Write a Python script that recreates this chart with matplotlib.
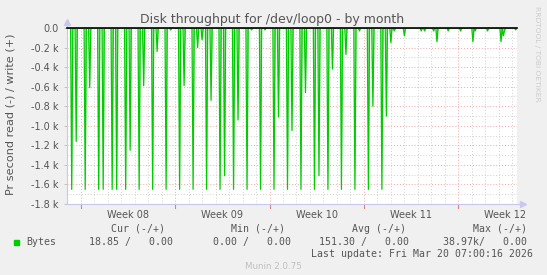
import numpy as np
import pandas as pd
import matplotlib
matplotlib.use("Agg")
from matplotlib import pyplot as plt
import matplotlib.dates as mdates
from matplotlib.patches import Rectangle


# daily job: one big read burst every morning (bytes/s, read side is negative)
main_times = pd.date_range("2026-02-15 08:00", "2026-03-10 08:00", freq="D")
main_depth = [1650] * len(main_times)

# the smaller bursts that follow
extra_times = ["2026-02-15 16:00", "2026-02-16 16:00", "2026-02-17 16:00",
               "2026-02-18 16:00", "2026-02-19 16:00", "2026-02-20 16:00",
               "2026-02-21 16:00", "2026-02-22 16:00", "2026-02-23 16:00",
               "2026-02-24 16:00", "2026-02-25 00:00", "2026-02-25 16:00",
               "2026-02-26 16:00", "2026-02-27 16:00", "2026-02-28 16:00",
               "2026-03-01 16:00", "2026-03-02 16:00", "2026-03-03 16:00",
               "2026-03-04 16:00", "2026-03-05 16:00", "2026-03-06 16:00",
               "2026-03-07 16:00", "2026-03-08 16:00", "2026-03-09 16:00",
               "2026-03-10 16:00", "2026-03-11 00:00", "2026-03-11 06:00",
               "2026-03-12 00:00", "2026-03-13 06:00", "2026-03-13 12:00",
               "2026-03-14 04:00", "2026-03-14 10:00", "2026-03-15 06:00",
               "2026-03-16 04:00", "2026-03-17 02:00", "2026-03-17 06:00",
               "2026-03-18 04:00", "2026-03-19 04:00", "2026-03-19 08:00",
               "2026-03-19 10:00", "2026-03-20 06:00"]
extra_depth = [1160, 610, 1650, 1650, 1250, 590, 240, 20, 590, 200, 120, 740,
               1510, 940, 20, 20, 910, 1050, 660, 1510, 420, 270, 30, 800,
               900, 150, 30, 80, 30, 30, 30, 140, 30, 30, 140, 30, 30, 140,
               80, 30, 20]

x_start = pd.Timestamp("2026-02-14 23:05")
x_end = pd.Timestamp("2026-03-20 09:00")
week_starts = pd.to_datetime(["2026-02-16", "2026-02-23", "2026-03-02",
                              "2026-03-09", "2026-03-16"])
week_labels = ["Week 08", "Week 09", "Week 10", "Week 11", "Week 12"]

legend_head = ["Cur (-/+)", "Min (-/+)", "Avg (-/+)", "Max (-/+)"]
legend_vals = ["18.85 /   0.00", "0.00 /   0.00", "151.30 /   0.00",
               "38.97k/   0.00"]
last_update = "Last update: Fri Mar 20 07:00:16 2026"

# build the 2 hour series
t = pd.date_range("2026-02-14 22:00", "2026-03-20 10:00", freq="2h")
vals = pd.Series(0.0, index=t)
for tt, d in zip(main_times, main_depth):
    vals[pd.Timestamp(tt)] = -d
for tt, d in zip(extra_times, extra_depth):
    vals[pd.Timestamp(tt)] = -d

W, H = 547, 275
fig = plt.figure(figsize=(W / 100, H / 100), dpi=100)
fig.patch.set_facecolor("#f0f0f0")
ax = fig.add_axes([66.7 / W, 1 - 204 / H, (517.3 - 66.7) / W, (204 - 28) / H])
ax.set_facecolor("white")

ax.fill_between(vals.index, vals.values, 0, color="#8ee88e", lw=0, zorder=3)
ax.plot(vals.index, vals.values, color="#00cc00", lw=0.9, zorder=4)
ax.axhline(0, color="black", lw=1.2, zorder=5, clip_on=False)

ax.set_xlim(x_start, x_end)
ax.set_ylim(-1800, 0)

# grid
minor_col = "#d0d0d0"
major_col = "#f0a8a8"
dots = (0, (1, 2))
for y in range(-1700, 0, 200):
    ax.axhline(y, color=minor_col, lw=0.7, ls=dots, zorder=1)
for y in range(-1600, 0, 200):
    ax.axhline(y, color=major_col, lw=0.7, ls=dots, zorder=2)
for d in pd.date_range("2026-02-15", "2026-03-20", freq="D"):
    if d not in week_starts:
        ax.axvline(d, color=minor_col, lw=0.7, ls=dots, zorder=1)
for d in week_starts:
    ax.axvline(d, color=major_col, lw=0.7, ls=dots, zorder=2)
    ax.axvline(d, ymin=-0.02, ymax=0, color="#e08080", lw=0.8, clip_on=False)

for s in ax.spines.values():
    s.set_visible(False)
axis_col = "#c8c8ee"
ax.plot([0, 0], [0, 1.035], transform=ax.transAxes, color=axis_col, lw=0.8,
        clip_on=False)
ax.plot([0, 1.013], [0, 0], transform=ax.transAxes, color=axis_col, lw=0.8,
        clip_on=False)
ax.plot([0], [1.035], marker="^", ms=4, color=axis_col, transform=ax.transAxes,
        clip_on=False)
ax.plot([1.013], [0], marker=">", ms=4, color=axis_col, transform=ax.transAxes,
        clip_on=False)

# ticks
txt_col = "#555555"
yt = list(range(0, -1801, -200))
ax.set_yticks(yt)
ax.set_yticklabels(["0.0"] + ["%.1f k" % (v / 1000) for v in yt[1:]])
ax.tick_params(axis="y", length=2, width=0.6, color="#bbbbbb", pad=4,
               labelsize=7, labelcolor=txt_col)
centers = week_starts + pd.Timedelta(hours=84)
ax.set_xticks(mdates.date2num(centers))
ax.set_xticklabels(week_labels)
ax.tick_params(axis="x", length=0, pad=4, labelsize=7, labelcolor=txt_col)
for lab in ax.get_xticklabels():
    lab.set_clip_on(False)

fig.text(272.5 / W, 1 - 19 / H, "Disk throughput for /dev/loop0 - by month",
         ha="center", va="center", fontsize=9, color=txt_col)
fig.text(11 / W, 1 - 114 / H, "Pr second read (-) / write (+)", rotation=90,
         ha="center", va="center", fontsize=8.1, color=txt_col)
fig.text(537 / W, 1 - 54 / H, "RRDTOOL / TOBI OETIKER", rotation=270,
         ha="center", va="center", fontsize=5.4, color="#cccccc")

mono = "DejaVu Sans Mono"
head_x = [111, 231, 352, 473]
for x, s in zip(head_x, legend_head):
    fig.text(x / W, 1 - 228.6 / H, s, ha="left", va="center", fontsize=7.1,
             family=mono, color=txt_col)
fig.patches.append(Rectangle((14 / W, 1 - 244.5 / H), 5 / W, 5 / H,
                             color="#00cc00", transform=fig.transFigure))
fig.text(26 / W, 1 - 241.9 / H, "Bytes", ha="left", va="center", fontsize=7.1,
         family=mono, color=txt_col)
val_right = [173, 291, 409, 527]
for x, s in zip(val_right, legend_vals):
    fig.text(x / W, 1 - 241.9 / H, s, ha="right", va="center", fontsize=7.1,
             family=mono, color=txt_col)
fig.text(532.8 / W, 1 - 254 / H, last_update, ha="right", va="center",
         fontsize=7.1, family=mono, color=txt_col)
fig.text(273 / W, 1 - 266.6 / H, "Munin 2.0.75", ha="center", va="center",
         fontsize=6.3, color="#c0c0c0")

fig.savefig("out.png", dpi=100, facecolor=fig.get_facecolor())
